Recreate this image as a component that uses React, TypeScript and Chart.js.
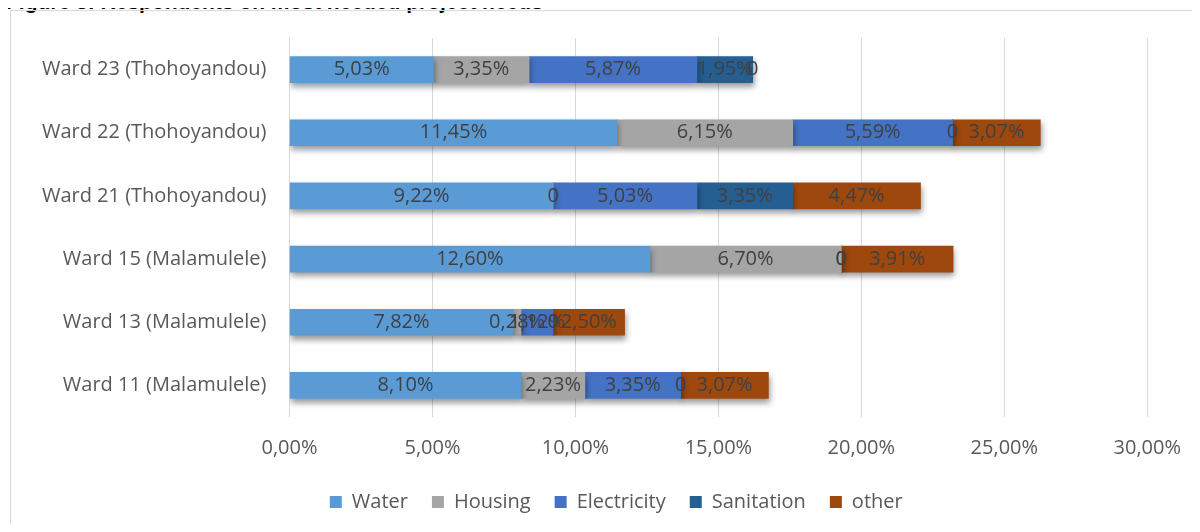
import React, { useEffect, useRef } from "react";
import { Chart, registerables } from "chart.js";

Chart.register(...registerables);

const categories = [
  "Ward 23 (Thohoyandou)",
  "Ward 22 (Thohoyandou)",
  "Ward 21 (Thohoyandou)",
  "Ward 15 (Malamulele)",
  "Ward 13 (Malamulele)",
  "Ward 11 (Malamulele)",
];
const water = [5.03, 11.45, 9.22, 12.6, 7.82, 8.1];
const housing = [3.35, 6.15, 0, 6.7, 0.28, 2.23];
const electricity = [5.87, 5.59, 5.03, 0, 1.12, 3.35];
const sanitation = [1.95, 0, 3.35, 0, 0, 0];
const other = [0, 3.07, 4.47, 3.91, 2.5, 3.07];
const seriesNames = ["Water", "Housing", "Electricity", "Sanitation", "other"];
const seriesColors = ["#5B9BD5", "#A5A5A5", "#4472C4", "#255E91", "#9E480E"];
const xTicks = [0, 5, 10, 15, 20, 25, 30];

const FONT = "'Open Sans', 'DejaVu Sans', sans-serif";

const fmt = (v: number) => (v === 0 ? "0" : v.toFixed(2).replace(".", ",") + "%");

const shadowPlugin = {
  id: "barShadow",
  beforeDatasetsDraw(chart: any) {
    const ctx = chart.ctx;
    ctx.save();
    ctx.shadowColor = "rgba(0,0,0,0.4)";
    ctx.shadowBlur = 6;
    ctx.shadowOffsetX = 1;
    ctx.shadowOffsetY = 4;
  },
  afterDatasetsDraw(chart: any) {
    chart.ctx.restore();
  },
};

const legendShift = {
  id: "legendShift",
  afterLayout(chart: any) {
    const l = chart.legend;
    if (l) {
      l.left += 36;
      l.right += 36;
    }
  },
};

const labelPlugin = {
  id: "segLabels",
  afterDatasetsDraw(chart: any) {
    const ctx = chart.ctx;
    ctx.save();
    ctx.font = `20px ${FONT}`;
    ctx.fillStyle = "#404040";
    ctx.textAlign = "center";
    ctx.textBaseline = "middle";
    chart.data.datasets.forEach((ds: any, di: number) => {
      const meta = chart.getDatasetMeta(di);
      meta.data.forEach((el: any, i: number) => {
        const p = el.getProps(["x", "y", "base"], true);
        const cx = (p.x + p.base) / 2;
        ctx.fillText(fmt(ds.data[i]), cx, p.y);
      });
    });
    ctx.restore();
  },
};

export default function App() {
  const ref = useRef<HTMLCanvasElement>(null);
  useEffect(() => {
    if (!ref.current) return;
    const series = [water, housing, electricity, sanitation, other];
    const chart = new Chart(ref.current, {
      type: "bar",
      data: {
        labels: categories,
        datasets: series.map((d, i) => ({
          label: seriesNames[i],
          data: d,
          backgroundColor: seriesColors[i],
          borderWidth: 0,
          barThickness: 26,
        })),
      },
      options: {
        indexAxis: "y",
        animation: false,
        responsive: false,
        devicePixelRatio: 1,
        layout: { padding: { top: 27, left: 0, right: 50.5, bottom: 10 } },
        scales: {
          x: {
            stacked: true,
            min: 0,
            max: 30,
            afterBuildTicks: (s: any) => {
              s.ticks = xTicks.map((v) => ({ value: v }));
            },
            afterFit: (s: any) => {
              s.height = 51;
            },
            grid: { color: "#D9D9D9", drawTicks: false, lineWidth: 1 },
            border: { display: false },
            ticks: {
              padding: 19,
              color: "#595959",
              font: { family: FONT, size: 20 },
              callback: (v: any) => Number(v).toFixed(2).replace(".", ",") + "%",
            },
          },
          y: {
            stacked: true,
            afterFit: (s: any) => {
              s.width = 278.5;
            },
            grid: {
              display: true,
              color: "rgba(0,0,0,0)",
              drawOnChartArea: false,
              drawTicks: true,
              tickLength: 23,
            },
            border: { display: false },
            ticks: {
              padding: 0,
              color: "#595959",
              font: { family: FONT, size: 20 },
            },
          },
        },
        plugins: {
          legend: {
            position: "bottom",
            labels: {
              boxWidth: 12,
              boxHeight: 12,
              padding: 24,
              color: "#595959",
              font: { family: FONT, size: 20 },
            },
          },
          tooltip: { enabled: false },
        },
      },
      plugins: [shadowPlugin, labelPlugin, legendShift],
    } as any);
    return () => chart.destroy();
  }, []);

  return (
    <div
      style={{
        position: "relative",
        margin: -8,
        width: 1200,
        height: 532,
        overflow: "hidden",
        background: "#fff",
      }}
    >
      <div
        style={{
          position: "absolute",
          top: -9,
          left: 6,
          font: "bold 21px 'Liberation Sans', Arial, sans-serif",
          lineHeight: "22px",
          color: "#000",
          whiteSpace: "nowrap",
        }}
      >
        Figure 3: Respondents on most needed project needs
      </div>
      <div
        style={{
          position: "absolute",
          left: 10,
          top: 10,
          width: 1300,
          height: 700,
          border: "1px solid #D9D9D9",
        }}
      />
      <canvas
        ref={ref}
        width={1189}
        height={521}
        style={{ position: "absolute", left: 11, top: 11 }}
      />
    </div>
  );
}
